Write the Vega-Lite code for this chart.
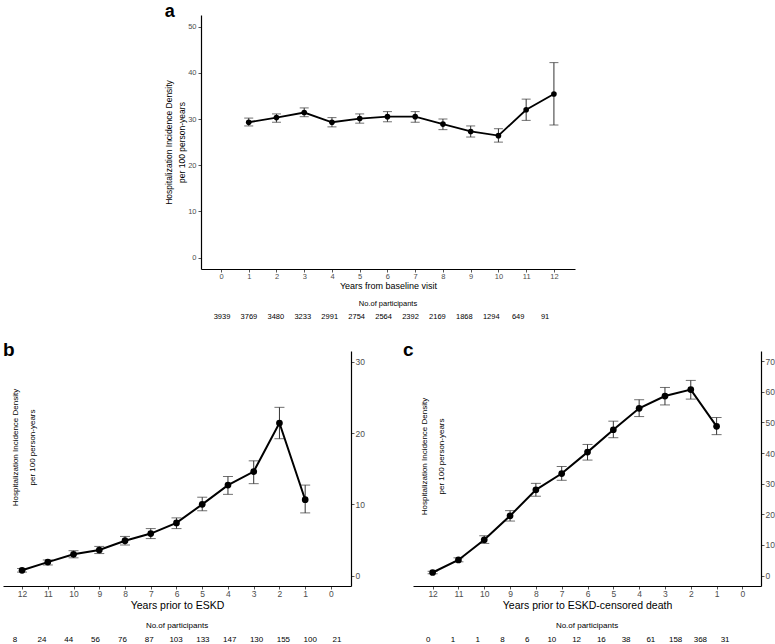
{
  "$schema": "https://vega.github.io/schema/vega-lite/v6.json",
  "padding": {"left": 3, "top": 3, "right": 0, "bottom": 0},
  "background": "white",
  "config": {
    "font": "Liberation Sans",
    "view": {"stroke": null},
    "axis": {"domainColor": "#000", "domainWidth": 1.2, "tickColor": "#555", "tickSize": 3, "labelColor": "#4d4d4d", "labelFontSize": 8, "titleColor": "#000", "titleFontWeight": "normal", "grid": false, "labelPadding": 1},
    "title": {"fontSize": 19, "fontWeight": "bold", "anchor": "start", "frame": "bounds", "color": "#000"}
  },
  "datasets": {
    "a": [
      {"year": 1, "rate": 29.3, "lo": 28.5, "hi": 30.2},
      {"year": 2, "rate": 30.3, "lo": 29.3, "hi": 31.1},
      {"year": 3, "rate": 31.4, "lo": 30.5, "hi": 32.4},
      {"year": 4, "rate": 29.3, "lo": 28.3, "hi": 30.3},
      {"year": 5, "rate": 30.1, "lo": 29.1, "hi": 31.1},
      {"year": 6, "rate": 30.5, "lo": 29.4, "hi": 31.6},
      {"year": 7, "rate": 30.5, "lo": 29.3, "hi": 31.6},
      {"year": 8, "rate": 28.9, "lo": 27.7, "hi": 30.0},
      {"year": 9, "rate": 27.3, "lo": 26.1, "hi": 28.5},
      {"year": 10, "rate": 26.4, "lo": 25.0, "hi": 27.9},
      {"year": 11, "rate": 32.0, "lo": 29.7, "hi": 34.3},
      {"year": 12, "rate": 35.4, "lo": 28.7, "hi": 42.2}
    ],
    "b": [
      {"year": 12, "rate": 0.75, "lo": 0.5, "hi": 1.0},
      {"year": 11, "rate": 1.9, "lo": 1.5, "hi": 2.2},
      {"year": 10, "rate": 3.0, "lo": 2.5, "hi": 3.5},
      {"year": 9, "rate": 3.6, "lo": 3.1, "hi": 4.1},
      {"year": 8, "rate": 4.9, "lo": 4.3, "hi": 5.5},
      {"year": 7, "rate": 5.9, "lo": 5.2, "hi": 6.6},
      {"year": 6, "rate": 7.4, "lo": 6.6, "hi": 8.1},
      {"year": 5, "rate": 10.0, "lo": 9.1, "hi": 11.0},
      {"year": 4, "rate": 12.7, "lo": 11.4, "hi": 13.9},
      {"year": 3, "rate": 14.6, "lo": 12.9, "hi": 16.1},
      {"year": 2, "rate": 21.4, "lo": 19.2, "hi": 23.6},
      {"year": 1, "rate": 10.65, "lo": 8.8, "hi": 12.7}
    ],
    "c": [
      {"year": 12, "rate": 1.0, "lo": 0.6, "hi": 1.4},
      {"year": 11, "rate": 5.1, "lo": 4.5, "hi": 5.8},
      {"year": 10, "rate": 11.7, "lo": 10.5, "hi": 13.0},
      {"year": 9, "rate": 19.5, "lo": 17.8, "hi": 21.2},
      {"year": 8, "rate": 28.0, "lo": 25.9, "hi": 30.1},
      {"year": 7, "rate": 33.3, "lo": 31.1, "hi": 35.6},
      {"year": 6, "rate": 40.3, "lo": 37.7, "hi": 42.8},
      {"year": 5, "rate": 47.6, "lo": 45.0, "hi": 50.4},
      {"year": 4, "rate": 54.6, "lo": 51.9, "hi": 57.4},
      {"year": 3, "rate": 58.6, "lo": 55.7, "hi": 61.4},
      {"year": 2, "rate": 60.7, "lo": 57.6, "hi": 63.7},
      {"year": 1, "rate": 48.7, "lo": 46.0, "hi": 51.6}
    ],
    "na": [
      {"year": 0, "n": 3939}, {"year": 1, "n": 3769}, {"year": 2, "n": 3480}, {"year": 3, "n": 3233},
      {"year": 4, "n": 2991}, {"year": 5, "n": 2754}, {"year": 6, "n": 2564}, {"year": 7, "n": 2392},
      {"year": 8, "n": 2169}, {"year": 9, "n": 1868}, {"year": 10, "n": 1294}, {"year": 11, "n": 649},
      {"year": 12, "n": 91}
    ],
    "nb": [
      {"year": 12, "n": 8}, {"year": 11, "n": 24}, {"year": 10, "n": 44}, {"year": 9, "n": 56},
      {"year": 8, "n": 76}, {"year": 7, "n": 87}, {"year": 6, "n": 103}, {"year": 5, "n": 133},
      {"year": 4, "n": 147}, {"year": 3, "n": 130}, {"year": 2, "n": 155}, {"year": 1, "n": 100},
      {"year": 0, "n": 21}
    ],
    "nc": [
      {"year": 12, "n": 0}, {"year": 11, "n": 1}, {"year": 10, "n": 1}, {"year": 9, "n": 8},
      {"year": 8, "n": 6}, {"year": 7, "n": 10}, {"year": 6, "n": 12}, {"year": 5, "n": 16},
      {"year": 4, "n": 38}, {"year": 3, "n": 61}, {"year": 2, "n": 158}, {"year": 1, "n": 368},
      {"year": 0, "n": 31}
    ]
  },
  "spacing": 18,
  "vconcat": [
    {
      "spacing": 20,
      "hconcat": [
        {"width": 141, "height": 10, "data": {"values": []}, "mark": "point", "encoding": {}},
        {
          "spacing": 8,
          "vconcat": [
            {
              "width": 374,
              "height": 254,
              "title": {"text": "a", "fontSize": 18, "dy": 10},
              "data": {"name": "a"},
              "encoding": {
                "x": {"field": "year", "type": "quantitative", "scale": {"domain": [-0.72, 12.76], "nice": false, "zero": false},
                      "axis": {"values": [0,1,2,3,4,5,6,7,8,9,10,11,12], "title": "Years from baseline visit", "titleFontSize": 9, "labelFontSize": 7.5, "labelPadding": 0, "titlePadding": 2}},
                "y": {"field": "rate", "type": "quantitative", "scale": {"domain": [-2.45, 52.5], "nice": false, "zero": false},
                      "axis": {"values": [0,10,20,30,40,50], "title": ["Hospitalization Incidence Density", "per 100 person-years"], "titleFontSize": 8.5, "titleLineHeight": 13, "labelFontSize": 7.5, "titlePadding": 1, "labelPadding": 2}}
              },
              "layer": [
                {"mark": {"type": "errorbar", "color": "#333", "thickness": 1, "ticks": {"size": 9, "color": "#333"}},
                 "encoding": {
                   "y": {"field": "lo", "type": "quantitative", "scale": {"domain": [-2.45, 52.5], "nice": false, "zero": false},
                         "axis": {"values": [0,10,20,30,40,50], "title": ["Hospitalization Incidence Density", "per 100 person-years"], "titleFontSize": 8.5, "titleLineHeight": 13, "labelFontSize": 7.5, "titlePadding": 1, "labelPadding": 2}},
                   "y2": {"field": "hi"}
                 }},
                {"mark": {"type": "line", "color": "#000", "strokeWidth": 1.8}},
                {"mark": {"type": "point", "filled": true, "color": "#000", "opacity": 1, "size": 32}}
              ]
            },
            {
              "width": 374,
              "height": 12,
              "data": {"name": "na"},
              "title": {"text": "No.of participants", "anchor": "middle", "fontSize": 7.5, "fontWeight": "normal", "offset": 4},
              "mark": {"type": "text", "fontSize": 7.5, "color": "#000"},
              "encoding": {
                "x": {"field": "year", "type": "quantitative", "scale": {"domain": [-0.78, 13.11], "nice": false, "zero": false}, "axis": null},
                "text": {"field": "n"}
              }
            }
          ]
        }
      ]
    },
    {
      "spacing": 38,
      "hconcat": [
        {
          "spacing": 11,
          "vconcat": [
            {
              "width": 348,
              "height": 235,
              "title": {"text": "b", "dy": 13},
              "data": {"name": "b"},
              "encoding": {
                "x": {"field": "year", "type": "quantitative", "scale": {"domain": [-0.78, 12.74], "reverse": true, "nice": false, "zero": false},
                      "axis": {"values": [0,1,2,3,4,5,6,7,8,9,10,11,12], "title": "Years prior to ESKD", "titleFontSize": 10.5, "labelFontSize": 8.5, "labelPadding": 0, "titlePadding": 3}},
                "y": {"field": "rate", "type": "quantitative", "scale": {"domain": [-1.45, 31.5], "nice": false, "zero": false},
                      "axis": {"orient": "right", "values": [0,10,20,30], "title": ["Hospitalization Incidence Density", "per 100 person-years"], "titleAngle": 270, "titleBaseline": "middle", "titleLineHeight": 17, "titleX": -336, "titleY": 96, "titleFontSize": 8, "labelFontSize": 8.5}}
              },
              "layer": [
                {"mark": {"type": "errorbar", "color": "#333", "thickness": 1, "ticks": {"size": 10, "color": "#333"}},
                 "encoding": {
                   "y": {"field": "lo", "type": "quantitative", "scale": {"domain": [-1.45, 31.5], "nice": false, "zero": false},
                         "axis": {"orient": "right", "values": [0,10,20,30], "title": ["Hospitalization Incidence Density", "per 100 person-years"], "titleAngle": 270, "titleBaseline": "middle", "titleLineHeight": 17, "titleX": -336, "titleY": 96, "titleFontSize": 8, "labelFontSize": 8.5}},
                   "y2": {"field": "hi"}
                 }},
                {"mark": {"type": "line", "color": "#000", "strokeWidth": 2}},
                {"mark": {"type": "point", "filled": true, "color": "#000", "opacity": 1, "size": 45}}
              ]
            },
            {
              "width": 348,
              "height": 12,
              "data": {"name": "nb"},
              "title": {"text": "No.of participants", "anchor": "middle", "fontSize": 8, "fontWeight": "normal", "offset": 4},
              "mark": {"type": "text", "fontSize": 8, "color": "#000"},
              "encoding": {
                "x": {"field": "year", "type": "quantitative", "scale": {"domain": [-0.52, 12.45], "reverse": true, "nice": false, "zero": false}, "axis": null},
                "text": {"field": "n"}
              }
            }
          ]
        },
        {
          "spacing": 11,
          "vconcat": [
            {
              "width": 348,
              "height": 235,
              "title": {"text": "c", "dy": 13, "dx": -10},
              "data": {"name": "c"},
              "encoding": {
                "x": {"field": "year", "type": "quantitative", "scale": {"domain": [-0.72, 12.76], "reverse": true, "nice": false, "zero": false},
                      "axis": {"values": [0,1,2,3,4,5,6,7,8,9,10,11,12], "title": "Years prior to ESKD-censored death", "titleFontSize": 10.5, "labelFontSize": 8.5, "labelPadding": 0, "titlePadding": 3}},
                "y": {"field": "rate", "type": "quantitative", "scale": {"domain": [-3.4, 73.3], "nice": false, "zero": false},
                      "axis": {"orient": "right", "values": [0,10,20,30,40,50,60,70], "title": ["Hospitalization Incidence Density", "per 100 person-years"], "titleAngle": 270, "titleBaseline": "middle", "titleLineHeight": 17, "titleX": -337, "titleY": 105, "titleFontSize": 8, "labelFontSize": 8.5}}
              },
              "layer": [
                {"mark": {"type": "errorbar", "color": "#333", "thickness": 1, "ticks": {"size": 10, "color": "#333"}},
                 "encoding": {
                   "y": {"field": "lo", "type": "quantitative", "scale": {"domain": [-3.4, 73.3], "nice": false, "zero": false},
                         "axis": {"orient": "right", "values": [0,10,20,30,40,50,60,70], "title": ["Hospitalization Incidence Density", "per 100 person-years"], "titleAngle": 270, "titleBaseline": "middle", "titleLineHeight": 17, "titleX": -337, "titleY": 105, "titleFontSize": 8, "labelFontSize": 8.5}},
                   "y2": {"field": "hi"}
                 }},
                {"mark": {"type": "line", "color": "#000", "strokeWidth": 2}},
                {"mark": {"type": "point", "filled": true, "color": "#000", "opacity": 1, "size": 45}}
              ]
            },
            {
              "width": 348,
              "height": 12,
              "data": {"name": "nc"},
              "title": {"text": "No.of participants", "anchor": "middle", "fontSize": 8, "fontWeight": "normal", "offset": 4},
              "mark": {"type": "text", "fontSize": 8, "color": "#000"},
              "encoding": {
                "x": {"field": "year", "type": "quantitative", "scale": {"domain": [-1.45, 12.61], "reverse": true, "nice": false, "zero": false}, "axis": null},
                "text": {"field": "n"}
              }
            }
          ]
        }
      ]
    }
  ]
}
